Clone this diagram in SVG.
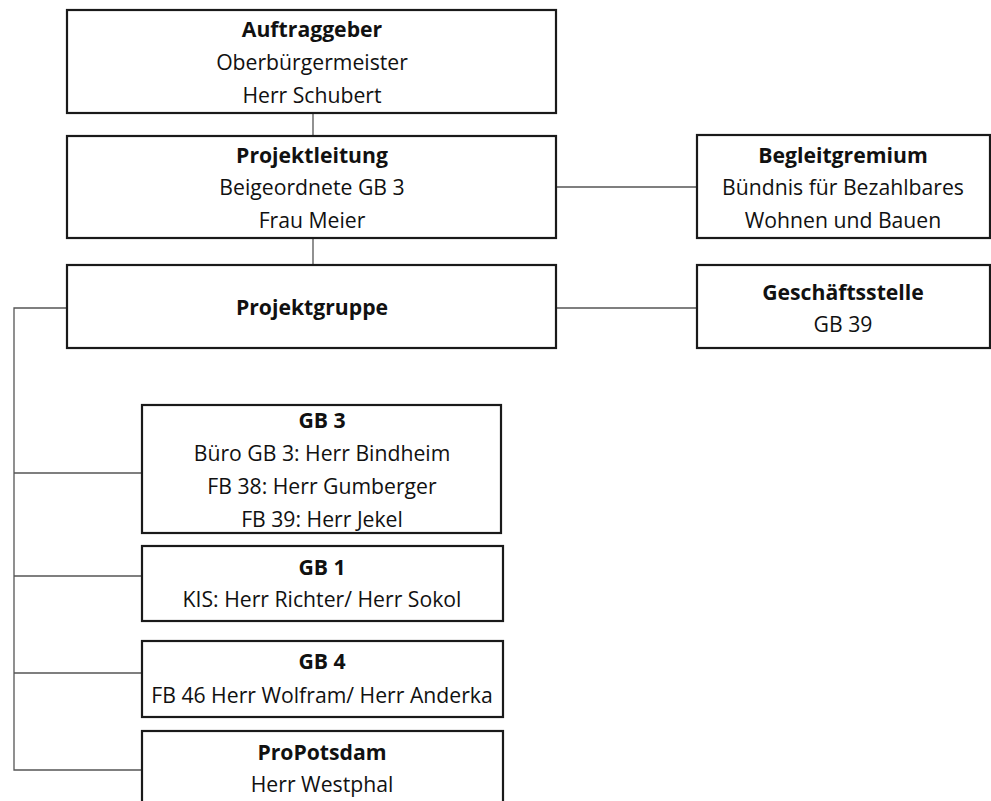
<svg xmlns="http://www.w3.org/2000/svg" width="991" height="801" viewBox="0 0 991 801">
<style>
.box{fill:#fff;stroke:#1a1a1a;stroke-width:2.2}
.c{stroke:#555;stroke-width:1.3;fill:none}
text{font-family:"Open Sans","Liberation Sans",sans-serif;font-size:21.2px;fill:#111;text-anchor:middle}
.b{font-weight:bold}
</style>
<rect width="991" height="801" fill="#fff"/>
<g id="connectors">
<line class="c" x1="313" y1="113" x2="313" y2="136"/>
<line class="c" x1="313" y1="238" x2="313" y2="265"/>
<line class="c" x1="556" y1="187" x2="697" y2="187"/>
<line class="c" x1="556" y1="308" x2="697" y2="308"/>
<polyline class="c" points="67,308 14,308 14,770 142,770"/>
<line class="c" x1="14" y1="473" x2="142" y2="473"/>
<line class="c" x1="14" y1="576" x2="142" y2="576"/>
<line class="c" x1="14" y1="673" x2="142" y2="673"/>
</g>
<g id="auftraggeber">
<rect class="box" x="67" y="10" width="489" height="103"/>
<text x="312" y="37" class="b">Auftraggeber</text>
<text x="312" y="70">Oberbürgermeister</text>
<text x="312" y="103">Herr Schubert</text>
</g>
<g id="projektleitung">
<rect class="box" x="67" y="136" width="489" height="102"/>
<text x="312" y="163" class="b">Projektleitung</text>
<text x="312" y="195">Beigeordnete GB 3</text>
<text x="312" y="228">Frau Meier</text>
</g>
<g id="projektgruppe">
<rect class="box" x="67" y="265" width="489" height="83"/>
<text x="312" y="315" class="b">Projektgruppe</text>
</g>
<g id="begleitgremium">
<rect class="box" x="697" y="135" width="293" height="103"/>
<text x="843" y="163" class="b">Begleitgremium</text>
<text x="843" y="195">Bündnis für Bezahlbares</text>
<text x="843" y="228">Wohnen und Bauen</text>
</g>
<g id="geschaeftsstelle">
<rect class="box" x="697" y="265" width="293" height="83"/>
<text x="843" y="300" class="b">Geschäftsstelle</text>
<text x="843" y="332">GB 39</text>
</g>
<g id="gb3">
<rect class="box" x="142" y="405" width="359" height="128"/>
<text x="322" y="428" class="b">GB 3</text>
<text x="322" y="461">Büro GB 3: Herr Bindheim</text>
<text x="322" y="494">FB 38: Herr Gumberger</text>
<text x="322" y="527">FB 39: Herr Jekel</text>
</g>
<g id="gb1">
<rect class="box" x="142" y="546" width="361" height="75"/>
<text x="322" y="575" class="b">GB 1</text>
<text x="322" y="607">KIS: Herr Richter/ Herr Sokol</text>
</g>
<g id="gb4">
<rect class="box" x="142" y="641" width="361" height="76"/>
<text x="322" y="669" class="b">GB 4</text>
<text x="322" y="703">FB 46 Herr Wolfram/ Herr Anderka</text>
</g>
<g id="propotsdam">
<rect class="box" x="142" y="731" width="361" height="90"/>
<text x="322" y="760" class="b">ProPotsdam</text>
<text x="322" y="792">Herr Westphal</text>
</g>
</svg>
